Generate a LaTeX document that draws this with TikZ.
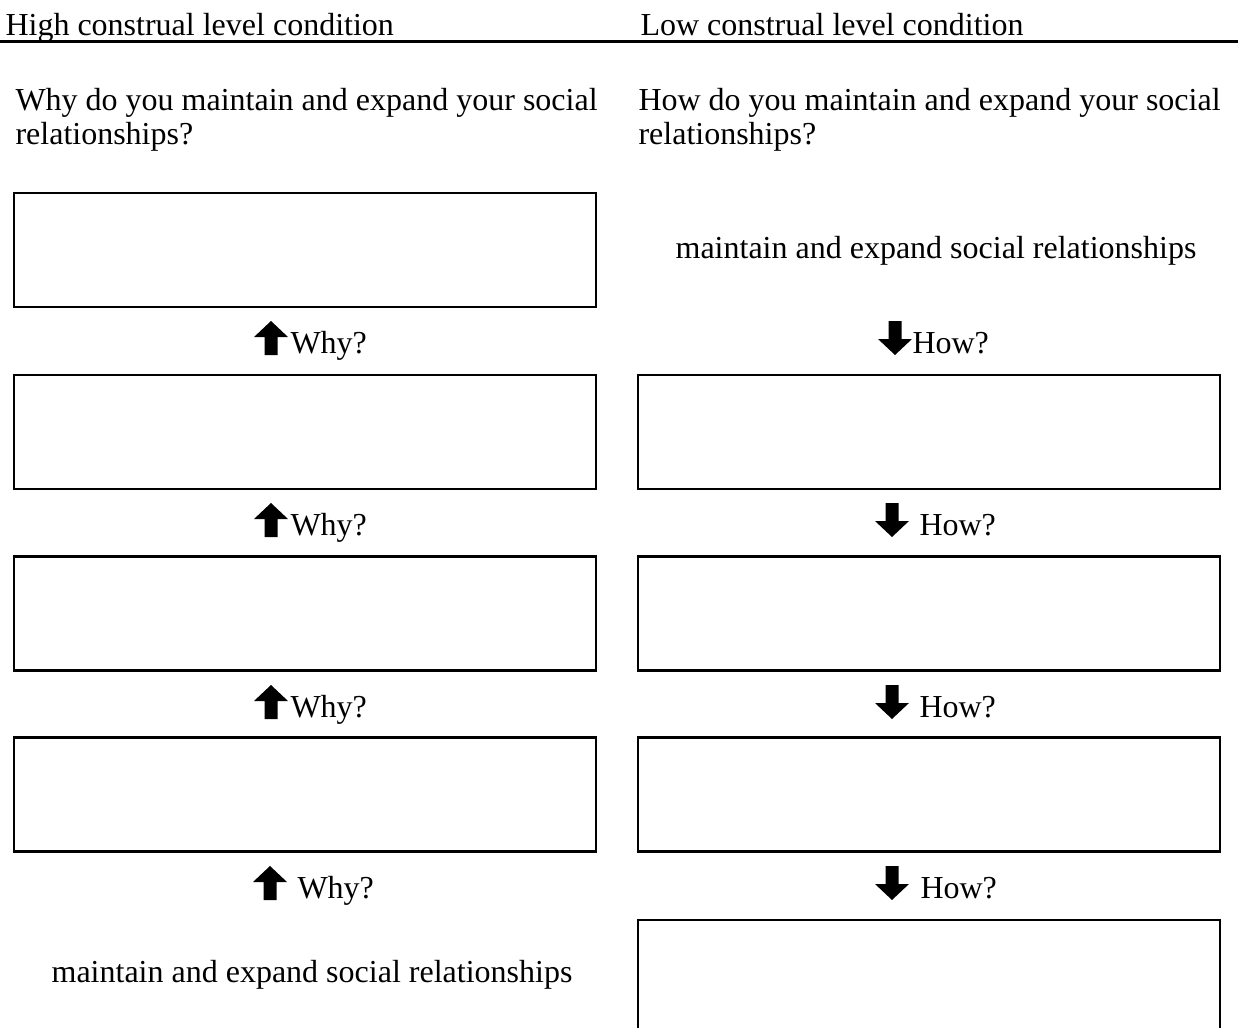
\documentclass[tikz,border=0pt]{standalone}
\usepackage{fontspec}
\setmainfont{Liberation Serif}
\begin{document}
\begin{tikzpicture}[x=0.375pt,y=-0.375pt,
  txt/.style={inner sep=0pt,font=\fontsize{12}{12.75}\selectfont},
  answerbox/.style={draw,line width=1.1pt,minimum width=218.25pt,minimum height=42.75pt,inner sep=0pt},
  uparrow/.pic={\fill (0,-17) -- (17,-1) -- (6.5,-1) -- (6.5,17) -- (-6.5,17) -- (-6.5,-1) -- (-17,-1) -- cycle;},
  downarrow/.pic={\fill (0,17) -- (17,1) -- (6.5,1) -- (6.5,-17) -- (-6.5,-17) -- (-6.5,1) -- (-17,1) -- cycle;}
]
\useasboundingbox (0,0) rectangle (1238,1027);
\fill[white] (0,0) rectangle (1238,1027);
% header
\node[txt,anchor=base west] (hhigh) at (5,35.5) {High construal level condition};
\node[txt,anchor=base west] (hlow) at (640,35.5) {Low construal level condition};
\coordinate (rl) at (0,41.5);
\coordinate (rr) at (1238,41.5);
\draw[line width=1.25pt] (rl) -- (rr);
% questions
\node[txt,anchor=base west,align=left] (qhigh) at (15,144) {Why do you maintain and expand your social\\relationships?};
\node[txt,anchor=base west,align=left] (qlow) at (638,144) {How do you maintain and expand your social\\relationships?};
% left column
\node[answerbox] (l1) at (305,250) {};
\node[answerbox] (l2) at (305,432) {};
\node[answerbox] (l3) at (305,613.5) {};
\node[answerbox] (l4) at (305,794.5) {};
\pic (wa1) at (271,338) {uparrow};
\pic (wa2) at (271,520) {uparrow};
\pic (wa3) at (271,702) {uparrow};
\pic (wa4) at (270,883) {uparrow};
\node[txt,anchor=base west] (w1) at (290,353) {Why?};
\node[txt,anchor=base west] (w2) at (290,535) {Why?};
\node[txt,anchor=base west] (w3) at (290,717) {Why?};
\node[txt,anchor=base west] (w4) at (297,898) {Why?};
\node[txt,anchor=base] (lbase) at (312,982) {maintain and expand social relationships};
% right column
\node[txt,anchor=base] (rbase) at (936,258) {maintain and expand social relationships};
\node[answerbox] (r1) at (929,432) {};
\node[answerbox] (r2) at (929,613.5) {};
\node[answerbox] (r3) at (929,794.5) {};
\node[answerbox] (r4) at (929,977) {};
\pic (ha1) at (895,338) {downarrow};
\pic (ha2) at (892,520) {downarrow};
\pic (ha3) at (892,702) {downarrow};
\pic (ha4) at (892,883) {downarrow};
\node[txt,anchor=base west] (h1) at (912,353) {How?};
\node[txt,anchor=base west] (h2) at (919,535) {How?};
\node[txt,anchor=base west] (h3) at (919,717) {How?};
\node[txt,anchor=base west] (h4) at (920,898) {How?};
\end{tikzpicture}
\end{document}
